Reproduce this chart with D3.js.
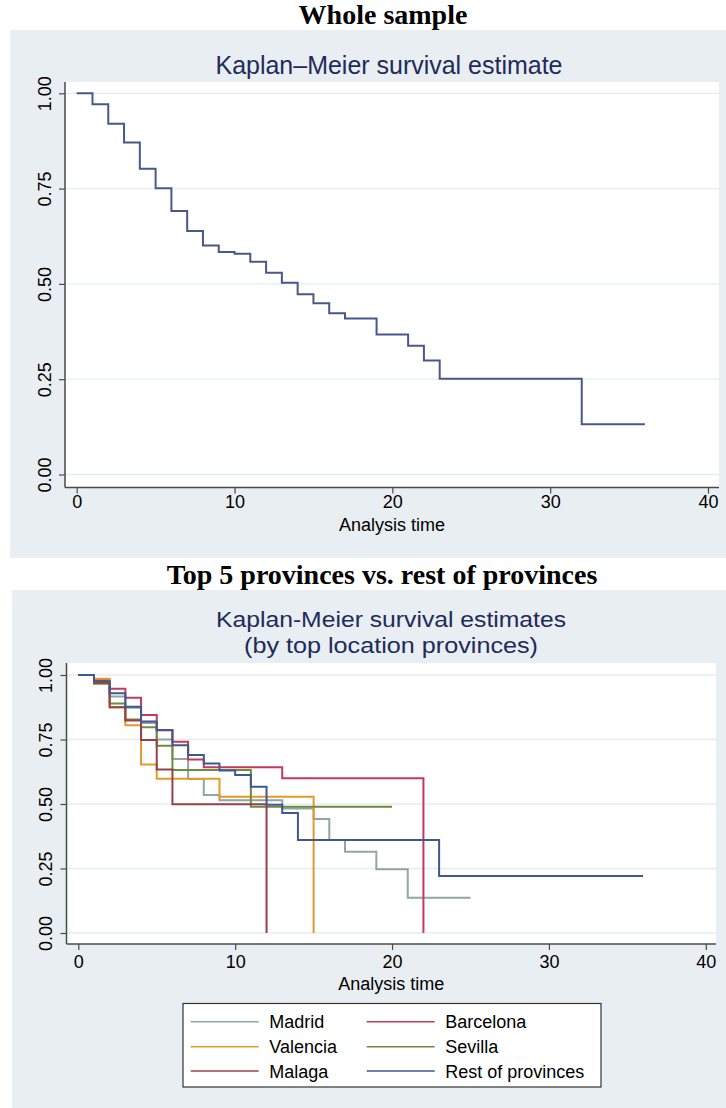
<!DOCTYPE html>
<html><head><meta charset="utf-8">
<script src="https://cdn.jsdelivr.net/npm/d3@7"></script>
<style>body{margin:0;background:#fff}svg{display:block}</style>
</head><body>
<script>
// ---------- DATA ----------
const xTicks = [0, 10, 20, 30, 40];
const yTicks = [0, 0.25, 0.5, 0.75, 1];

const wholeTimes = [0, 1, 2, 3, 4, 5, 6, 7, 8, 9, 10, 11, 12, 13, 14, 15, 16, 17, 19, 21, 22, 23, 32, 36];
const wholeSurv  = [1, .971, .920, .871, .802, .751, .691, .639, .601, .584, .579, .558, .529, .503, .473, .449, .423, .409, .367, .338, .299, .251, .132, .132];

const provinces = ["Madrid", "Barcelona", "Valencia", "Sevilla", "Malaga", "Rest of provinces"];
const provColors = ["#90a7a1", "#c33a5a", "#e39a2a", "#6f8b3d", "#98404a", "#3f5890"];

const madridTimes = [0, 1, 2, 3, 4, 5, 6, 7, 8, 9, 13, 15, 16, 17, 19, 21, 25];
const madridSurv  = [1, .976, .917, .873, .814, .750, .674, .597, .535, .515, .483, .442, .360, .315, .247, .137, .137];
const barcelonaTimes = [0, 1, 2, 3, 4, 5, 6, 7, 8, 13, 22];
const barcelonaSurv  = [1, .981, .947, .912, .845, .787, .741, .672, .642, .600, 0];
const valenciaTimes = [0, 1, 2, 3, 4, 5, 9, 15];
const valenciaSurv  = [1, .985, .875, .805, .653, .598, .528, 0];
const sevillaTimes = [0, 1, 2, 3, 4, 5, 6, 11, 20];
const sevillaSurv  = [1, .966, .890, .828, .797, .726, .632, .489, .489];
const malagaTimes = [0, 1, 2, 3, 4, 5, 6, 12];
const malagaSurv  = [1, .970, .875, .824, .748, .634, .499, 0];
const restTimes = [0, 1, 2, 3, 4, 5, 6, 7, 8, 9, 10, 11, 12, 13, 14, 23, 36];
const restSurv  = [1, .976, .929, .877, .820, .786, .728, .690, .657, .630, .612, .567, .497, .465, .360, .221, .221];

const provTimes = [madridTimes, barcelonaTimes, valenciaTimes, sevillaTimes, malagaTimes, restTimes];
const provSurv  = [madridSurv, barcelonaSurv, valenciaSurv, sevillaSurv, malagaSurv, restSurv];

// ---------- DRAW ----------
const W = 726, H = 1108;
const BG = "#e8eef1", GRID = "#e6edf0", AXIS = "#4a4a4a";
const SANS = "'Liberation Sans', Arial, Helvetica, sans-serif";
const SERIF = "'Liberation Serif', 'Times New Roman', serif";

const svg = d3.select("body").append("svg").attr("width", W).attr("height", H);

function zip(ts, ss) { return ts.map((t, i) => [t, ss[i]]); }

function panel(o) {
  const g = svg.append("g");
  g.append("text").attr("x", o.titleX).attr("y", o.titleY).attr("text-anchor", "middle")
    .attr("font-family", SERIF).attr("font-weight", "bold").attr("font-size", 28)
    .attr("fill", "#000").text(o.title);
  g.append("rect").attr("x", o.panel[0]).attr("y", o.panel[1]).attr("width", o.panel[2]).attr("height", o.panel[3]).attr("fill", BG);
  o.subtitle.forEach((s, i) => {
    g.append("text").attr("x", o.subX).attr("y", o.subY[i]).attr("text-anchor", "middle")
      .attr("font-family", SANS).attr("font-size", o.subSize).attr("fill", "#1f2b5b")
      .attr("textLength", o.subLen[i]).attr("lengthAdjust", "spacingAndGlyphs").text(s);
  });
  const [px0, py0, px1, py1] = o.plot;
  g.append("rect").attr("x", px0).attr("y", py0).attr("width", px1 - px0).attr("height", py1 - py0).attr("fill", "#fff");
  const x = d3.scaleLinear().domain([0, 40]).range(o.xr);
  const y = d3.scaleLinear().domain([0, 1]).range(o.yr);
  g.append("g").selectAll("line").data(yTicks).join("line")
    .attr("x1", px0).attr("x2", px1).attr("y1", d => y(d)).attr("y2", d => y(d))
    .attr("stroke", GRID).attr("stroke-width", 1.3);

  // y axis
  const ya = g.append("g").attr("transform", `translate(${px0},0)`)
    .call(d3.axisLeft(y).tickValues(yTicks).tickSize(6).tickSizeOuter(0).tickFormat(d3.format(".2f")));
  ya.select(".domain").remove();
  ya.selectAll(".tick line").attr("stroke", AXIS).attr("stroke-width", 1.2);
  ya.selectAll(".tick text").attr("transform", "rotate(-90)").attr("x", 0).attr("y", -14.5).attr("dy", 0)
    .attr("text-anchor", "middle").attr("font-family", SANS).attr("font-size", 18).attr("fill", "#000");
  g.append("line").attr("x1", px0).attr("x2", px0).attr("y1", py0).attr("y2", py1).attr("stroke", AXIS).attr("stroke-width", 1.5);

  // x axis
  const xa = g.append("g").attr("transform", `translate(0,${py1})`)
    .call(d3.axisBottom(x).tickValues(xTicks).tickSize(6).tickSizeOuter(0));
  xa.select(".domain").remove();
  xa.selectAll(".tick line").attr("stroke", AXIS).attr("stroke-width", 1.2);
  xa.selectAll(".tick text").attr("y", o.tickDy).attr("dy", 0)
    .attr("font-family", SANS).attr("font-size", 18).attr("fill", "#000");
  g.append("line").attr("x1", px0).attr("x2", px1).attr("y1", py1).attr("y2", py1).attr("stroke", AXIS).attr("stroke-width", 1.5);
  g.append("text").attr("x", (px0 + px1) / 2).attr("y", o.xlabY).attr("text-anchor", "middle")
    .attr("font-family", SANS).attr("font-size", 18).attr("fill", "#000").text("Analysis time");

  const line = d3.line().x(d => x(d[0])).y(d => y(d[1])).curve(d3.curveStepAfter);
  o.series.forEach(s => {
    g.append("path").attr("d", line(s.pts)).attr("fill", "none")
      .attr("stroke", s.color).attr("stroke-width", 2).attr("stroke-linejoin", "miter");
  });
  return g;
}

panel({
  title: "Whole sample", titleX: 383, titleY: 24,
  panel: [10, 30, 716, 528],
  subtitle: ["Kaplan\u2013Meier survival estimate"], subX: 389, subY: [74], subSize: 25, subLen: [347],
  plot: [65, 82, 719, 487.5], xr: [76.7, 708], yr: [474.5, 93.3],
  tickDy: 20, xlabY: 531,
  series: [{ pts: zip(wholeTimes, wholeSurv), color: "#46598a" }]
});

panel({
  title: "Top 5 provinces vs. rest of provinces", titleX: 382, titleY: 584,
  panel: [12, 590, 714, 518],
  subtitle: ["Kaplan-Meier survival estimates", "(by top location provinces)"], subX: 391, subY: [627, 653], subSize: 22.5, subLen: [350, 294],
  plot: [66.5, 663, 716, 944], xr: [78.3, 705.8], yr: [933, 675],
  tickDy: 24, xlabY: 990,
  series: provinces.map((p, i) => ({ pts: zip(provTimes[i], provSurv[i]), color: provColors[i] }))
});

// legend
const lg = svg.append("g");
lg.append("rect").attr("x", 183).attr("y", 1003.5).attr("width", 418).attr("height", 83.5)
  .attr("fill", "#fff").attr("stroke", "#333").attr("stroke-width", 1.2);
const rowY = [1021.7, 1046.7, 1071];
const colX = [190.7, 366.7];
provinces.forEach((p, i) => {
  const r = Math.floor(i / 2), c = i % 2;
  lg.append("line").attr("x1", colX[c]).attr("x2", colX[c] + 68).attr("y1", rowY[r]).attr("y2", rowY[r])
    .attr("stroke", provColors[i]).attr("stroke-width", 1.6);
  lg.append("text").attr("x", colX[c] + 78.6).attr("y", rowY[r] + 6.5)
    .attr("font-family", SANS).attr("font-size", 18).attr("fill", "#000").text(p);
});
</script>
</body></html>
